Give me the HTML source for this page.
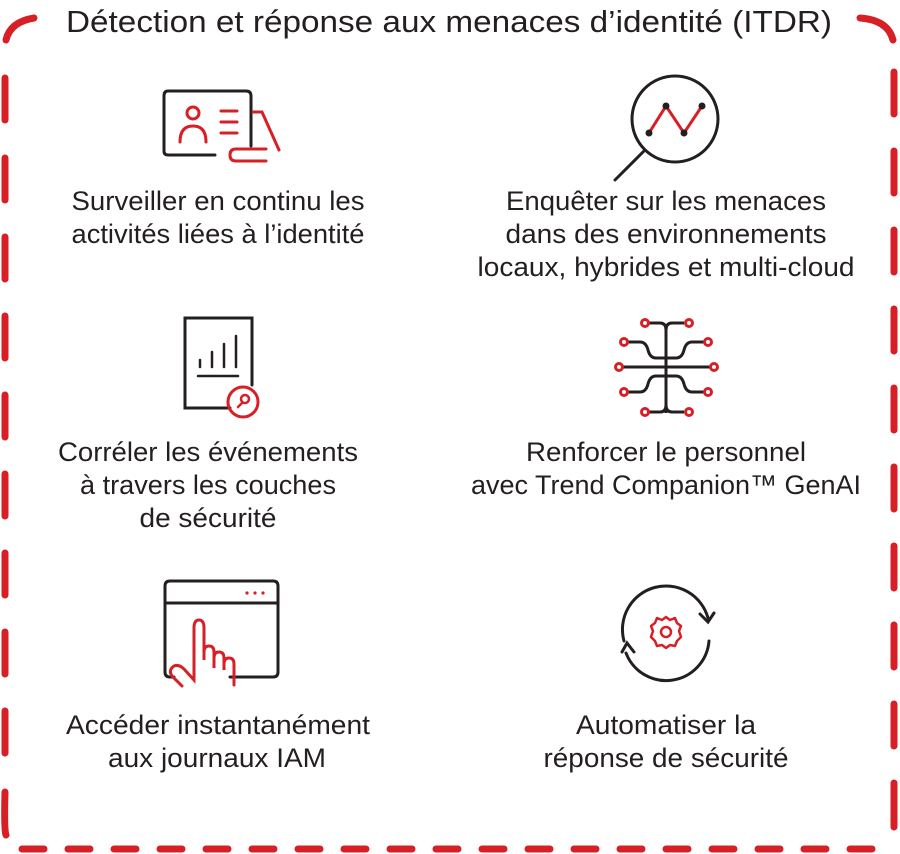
<!DOCTYPE html>
<html><head><meta charset="utf-8"><style>
html,body{margin:0;padding:0;background:#fff;width:900px;height:854px;overflow:hidden}
svg{display:block}
text{font-family:"Liberation Sans",sans-serif;fill:#231f20}
</style></head><body>
<svg width="900" height="854" viewBox="0 0 900 854" xmlns="http://www.w3.org/2000/svg">
<g stroke="#d71f26" stroke-width="7" stroke-linecap="round" fill="none">
<path d="M6 40 Q10 22 34 18"/>
<path d="M860 18 Q888 20 893 40"/>
<path d="M5 78 V120 M5 158 V200 M5 237 V279 M5 316 V358 M5 395 V437 M5 474 V516 M5 553 V595 M5 632 V674 M5 711 V753 M5 792 Q4 830 6 835"/>
<path d="M894 72 V114 M894 151 V193 M894 230 V272 M894 309 V351 M894 388 V430 M894 467 V509 M894 546 V588 M894 625 V667 M894 704 V746 M894 783 V827"/>
<path d="M22 849 H44 M68 849 H90 M114 849 H136 M160 849 H182 M206 849 H228 M252 849 H274 M298 849 H320 M344 849 H366 M390 849 H412 M436 849 H458 M482 849 H504 M528 849 H550 M574 849 H596 M620 849 H642 M666 849 H688 M712 849 H734 M758 849 H780 M804 849 H826 M850 849 H872"/>
</g>
<text x="449" y="32" font-size="31" text-anchor="middle" textLength="766" lengthAdjust="spacingAndGlyphs">Détection et réponse aux menaces d’identité (ITDR)</text>

<g fill="none" stroke-width="3" stroke-linecap="round">
<path d="M215 155 H168 Q164 155 164 151 V96 Q164 91 168 91 H246 Q251 91 251 96 V146" stroke="#231f20"/>
<g stroke="#d71f26">
<circle cx="193" cy="113" r="6"/><path d="M180 142 Q180 126 193 126 Q206 126 206 142"/>
<path d="M221 111 H237 M221 122 H237 M221 133 H237"/>
<path d="M253 112 H262 L279 150"/>
<path d="M266 149 H236 Q230 149 230 155 Q230 161 236 161 H266"/>
</g>
<circle cx="675" cy="119" r="43" stroke="#231f20"/>
<path d="M645 150 L615 180" stroke="#231f20"/>
<path d="M649 133 L666 106 L684 133 L702 106" stroke="#d71f26"/>
</g>
<g fill="#231f20"><circle cx="649" cy="133" r="3.5"/><circle cx="666" cy="106" r="3.5"/><circle cx="684" cy="133" r="3.5"/><circle cx="702" cy="106" r="3.5"/></g>

<g fill="none" stroke-width="3" stroke-linecap="round">
<path d="M230 408 H185 V318 H252 V385" stroke="#231f20"/>
<path d="M200 360 V367 M212 352 V367 M224 344 V367 M236 336 V367 M198 376 H238" stroke="#231f20" stroke-width="2.5"/>
<circle cx="243" cy="402" r="15" stroke="#d71f26"/>
<circle cx="245" cy="399" r="4" stroke="#d71f26" stroke-width="2.5"/><path d="M242 403 L238 407" stroke="#d71f26" stroke-width="2.5"/>
</g>

<g fill="none" stroke="#231f20" stroke-width="3">
<path d="M666 325 V413"/>
<path d="M622 367 H711"/>
<path d="M649 323 H660 Q666 323 666 330 Q666 323 672 323 H684"/>
<path d="M649 412 H660 Q666 412 666 405 Q666 412 672 412 H684"/>
<path d="M627 342 H640 Q646 342 648 350 Q650 358 656 358 H666 H676 Q682 358 684 350 Q686 342 692 342 H705"/>
<path d="M627 392 H640 Q646 392 648 384 Q650 376 656 376 H666 H676 Q682 376 684 384 Q686 392 692 392 H705"/>
</g>
<g fill="#fff" stroke="#d71f26" stroke-width="3">
<circle cx="645" cy="323" r="3.5"/><circle cx="689" cy="323" r="3.5"/>
<circle cx="624" cy="342" r="3.5"/><circle cx="708" cy="342" r="3.5"/>
<circle cx="619" cy="367" r="3.5"/><circle cx="714" cy="367" r="3.5"/>
<circle cx="624" cy="392" r="3.5"/><circle cx="708" cy="392" r="3.5"/>
<circle cx="645" cy="412" r="3.5"/><circle cx="689" cy="412" r="3.5"/>
</g>

<g fill="none" stroke-width="3" stroke-linecap="round">
<path d="M174 677 H170 Q165 677 165 672 V586 Q165 581 170 581 H273 Q278 581 278 586 V672 Q278 677 273 677 H230" stroke="#231f20"/>
<path d="M165 603 H278" stroke="#231f20"/>
<path d="M182 686 L172 676 Q168 670 174 666 Q179 664 184 669 L194 680 V628 Q194 620 199 620 Q204 620 204 628 V660 V652 Q204 646 209 646 Q214 646 214 652 V668 V658 Q214 652 219 652 Q224 652 224 658 V670 V664 Q224 658 229 658 Q234 658 234 664 V685" stroke="#d71f26"/>
</g>
<g fill="#d71f26"><circle cx="247" cy="593" r="1.6"/><circle cx="255" cy="593" r="1.6"/><circle cx="263" cy="593" r="1.6"/></g>

<g fill="none" stroke-width="3" stroke-linecap="round">
<path d="M624 641 A43 43 0 0 1 708 618" stroke="#231f20"/>
<path d="M700 614 L708 622 L714 613" stroke="#231f20"/>
<path d="M709 641 A43 43 0 0 1 626 653" stroke="#231f20"/>
<path d="M622 652 L627 643 L634 652" stroke="#231f20"/>
<circle cx="666" cy="632" r="5" stroke="#d71f26" stroke-width="2.5"/>
<path d="M666 617 L670 620 L675 618 L677 623 L681 626 L679 631 L681 637 L677 641 L675 646 L670 645 L666 648 L662 645 L657 646 L655 641 L651 637 L653 631 L651 626 L655 623 L657 618 L662 620 Z" stroke="#d71f26" stroke-width="2.5" stroke-linejoin="round"/>
</g>

<g font-size="27" text-anchor="middle" lengthAdjust="spacingAndGlyphs">
<text x="218" y="210" textLength="293" lengthAdjust="spacingAndGlyphs">Surveiller en continu les</text>
<text x="218" y="243" textLength="293" lengthAdjust="spacingAndGlyphs">activités liées à l’identité</text>
<text x="666" y="210" textLength="320" lengthAdjust="spacingAndGlyphs">Enquêter sur les menaces</text>
<text x="666" y="243" textLength="321" lengthAdjust="spacingAndGlyphs">dans des environnements</text>
<text x="666" y="276" textLength="377" lengthAdjust="spacingAndGlyphs">locaux, hybrides et multi-cloud</text>
<text x="208" y="461" textLength="300" lengthAdjust="spacingAndGlyphs">Corréler les événements</text>
<text x="208" y="494" textLength="256" lengthAdjust="spacingAndGlyphs">à travers les couches</text>
<text x="208" y="527" textLength="137" lengthAdjust="spacingAndGlyphs">de sécurité</text>
<text x="666" y="461" textLength="280" lengthAdjust="spacingAndGlyphs">Renforcer le personnel</text>
<text x="666" y="494" textLength="390" lengthAdjust="spacingAndGlyphs">avec Trend Companion™ GenAI</text>
<text x="218" y="734" textLength="304" lengthAdjust="spacingAndGlyphs">Accéder instantanément</text>
<text x="217" y="767" textLength="218" lengthAdjust="spacingAndGlyphs">aux journaux IAM</text>
<text x="666" y="734" textLength="180" lengthAdjust="spacingAndGlyphs">Automatiser la</text>
<text x="666" y="767" textLength="245" lengthAdjust="spacingAndGlyphs">réponse de sécurité</text>
</g>
</svg>
</body></html>
